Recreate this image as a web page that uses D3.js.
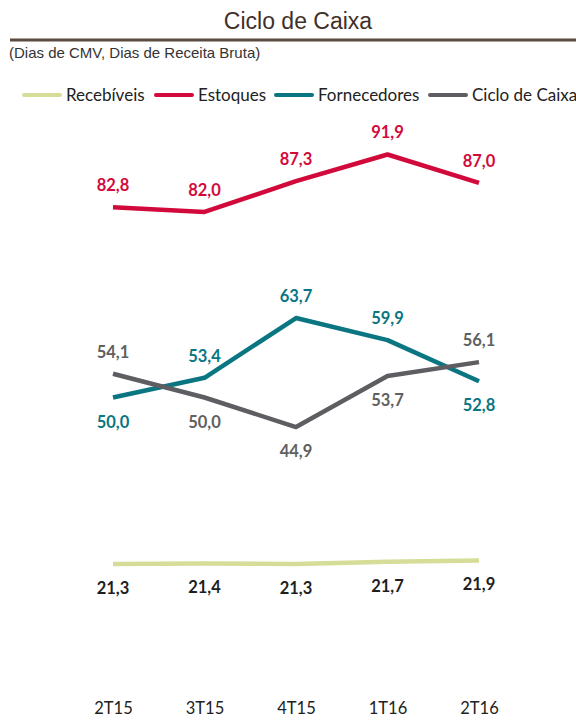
<!DOCTYPE html>
<html>
<head>
<meta charset="utf-8">
<script src="https://cdn.jsdelivr.net/npm/d3@7"></script>
<style>
  body { margin: 0; background: #fff; }
  svg { display: block; }
  .title { font-family: "Liberation Sans", Arial, sans-serif; font-size: 23px; fill: #3f3129; }
  .subtitle { font-family: "Liberation Sans", Arial, sans-serif; font-size: 15px; fill: #333; }
  .legend text { font-family: Lato, "Open Sans", sans-serif; font-size: 17px; fill: #222; }
  .axis text { font-family: Lato, "Open Sans", sans-serif; font-size: 16.5px; fill: #222; }
  .label { font-family: Lato, "Open Sans", sans-serif; font-size: 16.5px; font-weight: bold; }
</style>
</head>
<body>
<div id="chart"></div>
<script>
const width = 576;
const height = 722;

const quarters = ["2T15", "3T15", "4T15", "1T16", "2T16"];
const recebiveis = [21.3, 21.4, 21.3, 21.7, 21.9];
const estoques = [82.8, 82.0, 87.3, 91.9, 87.0];
const fornecedores = [50.0, 53.4, 63.7, 59.9, 52.8];
const cicloCaixa = [54.1, 50.0, 44.9, 53.7, 56.1];

// label placement: 1 = above the point, -1 = below
const recebiveisPos = [-1, -1, -1, -1, -1];
const estoquesPos = [1, 1, 1, 1, 1];
const fornecedoresPos = [-1, 1, 1, 1, -1];
const cicloCaixaPos = [1, -1, -1, -1, 1];

const series = [
  { name: "Recebíveis", values: recebiveis, pos: recebiveisPos, color: "#d5dd98", labelColor: "#1e1e1e" },
  { name: "Estoques", values: estoques, pos: estoquesPos, color: "#d20a3c", labelColor: "#d20a3c" },
  { name: "Fornecedores", values: fornecedores, pos: fornecedoresPos, color: "#0a7682", labelColor: "#0a7682" },
  { name: "Ciclo de Caixa", values: cicloCaixa, pos: cicloCaixaPos, color: "#5e5e62", labelColor: "#606060" },
];

let svg;
let xScale;
let yScale;

function createChart() {
  svg = d3.select("#chart")
    .append("svg")
    .attr("width", width)
    .attr("height", height);

  createHeader();
  createLegend();
  createScales();
  createXAxis();
  createLines();
  createLabels();
}

function createHeader() {
  svg.append("text")
    .classed("title", true)
    .attr("x", 298)
    .attr("y", 29)
    .attr("text-anchor", "middle")
    .text("Ciclo de Caixa");

  svg.append("line")
    .attr("x1", 10)
    .attr("x2", width)
    .attr("y1", 40)
    .attr("y2", 40)
    .attr("stroke", "#5c4b40")
    .attr("stroke-width", 3);

  svg.append("text")
    .classed("subtitle", true)
    .attr("x", 9)
    .attr("y", 58)
    .text("(Dias de CMV, Dias de Receita Bruta)");
}

function createLegend() {
  const legendX = [24, 156, 276, 430];
  const legend = svg.selectAll(".legend")
    .data(series)
    .enter()
    .append("g")
    .classed("legend", true)
    .attr("transform", (d, i) => "translate(" + legendX[i] + ",95)");

  legend.append("line")
    .attr("x1", 0)
    .attr("x2", 36)
    .attr("stroke", (d) => d.color)
    .attr("stroke-width", 4)
    .attr("stroke-linecap", "round");

  legend.append("text")
    .attr("x", 42)
    .attr("y", 6)
    .text((d) => d.name);
}

function createScales() {
  xScale = d3.scalePoint()
    .domain(quarters)
    .range([113, 479]);

  yScale = d3.scaleLinear()
    .domain([0, 100])
    .range([687.5, 107.5]);
}

function createXAxis() {
  svg.append("g")
    .classed("axis", true)
    .attr("transform", "translate(0,696)")
    .call(d3.axisBottom(xScale).tickSize(0).tickPadding(6))
    .call((g) => g.select(".domain").remove());
}

function createLines() {
  const line = d3.line()
    .x((d, i) => xScale(quarters[i]))
    .y((d) => yScale(d));

  svg.append("g")
    .selectAll("path")
    .data(series)
    .enter()
    .append("path")
    .attr("d", (d) => line(d.values))
    .attr("fill", "none")
    .attr("stroke", (d) => d.color)
    .attr("stroke-width", 4.5)
    .attr("stroke-linejoin", "round");
}

function createLabels() {
  const f = d3.format(".1f");
  series.forEach((s) => {
    svg.append("g")
      .selectAll("text")
      .data(s.values)
      .enter()
      .append("text")
      .classed("label", true)
      .attr("x", (d, i) => xScale(quarters[i]))
      .attr("y", (d, i) => yScale(d) + (s.pos[i] > 0 ? -16 : 30))
      .attr("text-anchor", "middle")
      .attr("fill", s.labelColor)
      .text((d) => f(d).replace(".", ","));
  });
}

createChart();
</script>
</body>
</html>
